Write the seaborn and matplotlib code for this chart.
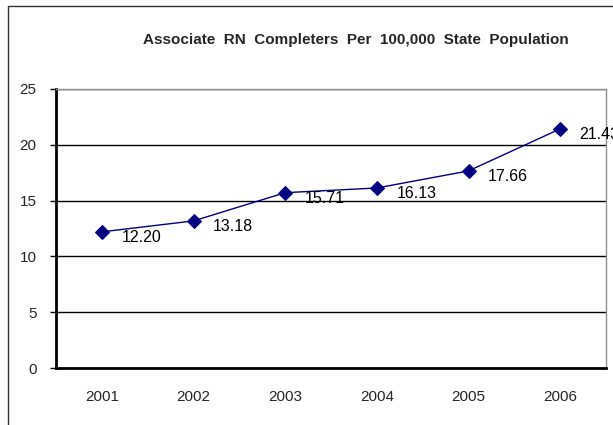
import numpy as np
import pandas as pd
import seaborn as sns
from matplotlib import pyplot as plt
from matplotlib.patches import Rectangle
from matplotlib.ticker import FixedLocator

years = ["2001", "2002", "2003", "2004", "2005", "2006"]
completers = [12.20, 13.18, 15.71, 16.13, 17.66, 21.43]
y_ticks = [0, 5, 10, 15, 20, 25]

df = pd.DataFrame({"year": years, "rate": completers})

sns.set_style("white")
plt.rcParams["font.family"] = ["Liberation Sans", "DejaVu Sans"]

W, H = 613, 425
fig = plt.figure(figsize=(W / 100, H / 100), dpi=100)
ax = fig.add_axes([56 / W, 1 - 368 / H, 550 / W, (368 - 89) / H])

sns.lineplot(data=df, x="year", y="rate", ax=ax, color="#000080",
             marker="D", markersize=7, markeredgecolor="#000080", lw=1)

for i, v in enumerate(completers):
    ax.annotate(f"{v:.2f}", (i, v), xytext=(14, -4), textcoords="offset points",
                ha="left", va="center", fontsize=11.5, color="black",
                annotation_clip=False)

ax.set_xlim(-0.5, len(years) - 0.5)
ax.set_ylim(0, 25)
ax.set_yticks(y_ticks)
ax.set_xlabel("")
ax.set_ylabel("")
ax.grid(axis="y", color="black", lw=1)
ax.set_axisbelow(True)

# category ticks sit between the labels
ax.xaxis.set_minor_locator(FixedLocator(np.arange(-0.5, len(years), 1.0)))
ax.tick_params(axis="x", which="major", length=0, pad=16, labelsize=11)
ax.tick_params(axis="x", which="minor", length=4, width=1, color="black",
               direction="out")
ax.tick_params(axis="y", length=4, width=1, color="black", direction="out",
               labelsize=11, pad=10, left=True)

for s in ["left", "bottom"]:
    ax.spines[s].set_color("black")
    ax.spines[s].set_linewidth(2)
for s in ["top", "right"]:
    ax.spines[s].set_color("#909090")
    ax.spines[s].set_linewidth(1)

fig.text(356 / W, 1 - 40 / H,
         "Associate  RN  Completers  Per  100,000  State  Population",
         ha="center", va="center", fontsize=11, fontweight="bold")

fig.patches.append(Rectangle((8 / W, -0.1), 1.2, 1.1 - 6 / H,
                             transform=fig.transFigure, fill=False,
                             edgecolor="#303030", lw=1))

fig.savefig("out.png", dpi=100)
